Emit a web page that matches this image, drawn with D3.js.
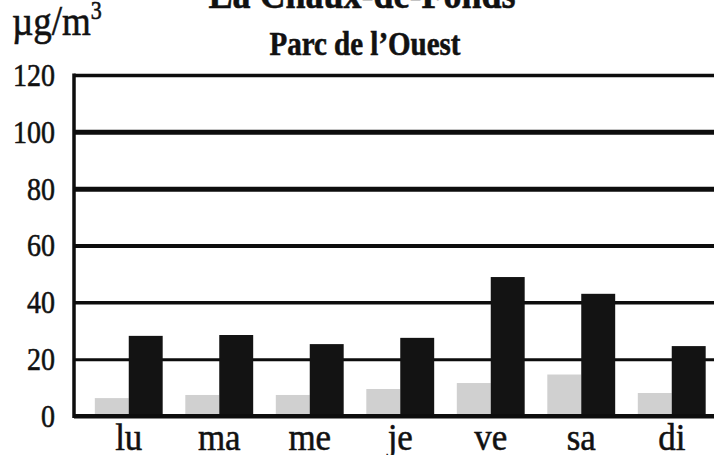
<!DOCTYPE html>
<html>
<head>
<meta charset="utf-8">
<script src="https://cdn.jsdelivr.net/npm/d3@7"></script>
<style>
  html, body { margin: 0; padding: 0; background: #fff; overflow: hidden; }
  text { font-family: "Liberation Serif", "Times New Roman", serif; fill: #111; stroke: #111; stroke-width: 0.5px; }
</style>
</head>
<body>
<div id="chart"></div>
<script>
// données
const jours = ["lu", "ma", "me", "je", "ve", "sa", "di"];
const serieClaire = [6.3, 7.4, 7.4, 9.5, 11.6, 14.6, 8.1];
const serieFoncee = [28.2, 28.5, 25.3, 27.5, 48.9, 43.0, 24.6];
const graduations = [0, 20, 40, 60, 80, 100, 120];

const width = 714, height = 455;
const x0 = 74, yBas = 416, yHaut = 75;
const etirement = 1.16; // le scan est un peu étiré verticalement

const svg = d3.select("#chart").append("svg")
    .attr("width", width)
    .attr("height", height);

// échelles
const y = d3.scaleLinear().domain([0, 120]).range([yBas, yHaut]);
const x = d3.scaleBand().domain(jours).range([x0, 726.5])
    .paddingInner(0.25).paddingOuter(0.23);
const xSerie = d3.scaleBand().domain(["claire", "foncee"]).range([0, x.bandwidth()]);

// épaisseur des lignes horizontales (100 et 80 plus grasses sur l'original)
const epaisseur = { 0: 4, 20: 3, 40: 3.5, 60: 4, 80: 5, 100: 5, 120: 3.5 };

// axe Y + lignes de grille
const axeY = svg.append("g")
    .attr("transform", `translate(${x0},0)`)
    .call(d3.axisLeft(y).tickValues(graduations).tickSizeInner(-(width - x0 + 20)).tickSizeOuter(0).tickPadding(19));
axeY.select(".domain").remove();
axeY.selectAll(".tick line")
    .attr("stroke", "#0d0d0d")
    .attr("stroke-width", d => epaisseur[d]);
axeY.selectAll(".tick text")
    .attr("font-size", 28)
    .attr("fill", "#111")
    .attr("transform", `scale(1,${etirement})`)
    .attr("font-family", "Liberation Serif");

// barres
const groupes = svg.append("g").selectAll("g")
    .data(jours)
    .join("g")
    .attr("transform", d => `translate(${x(d)},0)`);

groupes.append("rect")
    .attr("x", xSerie("claire"))
    .attr("width", xSerie.bandwidth())
    .attr("y", (d, i) => y(serieClaire[i]))
    .attr("height", (d, i) => yBas - y(serieClaire[i]))
    .attr("fill", "#d0d0d0");

groupes.append("rect")
    .attr("x", xSerie("foncee"))
    .attr("width", xSerie.bandwidth())
    .attr("y", (d, i) => y(serieFoncee[i]))
    .attr("height", (d, i) => yBas - y(serieFoncee[i]))
    .attr("fill", "#131313");

// axe vertical gauche et ligne de base
svg.append("line")
    .attr("x1", x0).attr("x2", x0)
    .attr("y1", yHaut - 1.5).attr("y2", yBas + 2)
    .attr("stroke", "#0d0d0d").attr("stroke-width", 3.5);
svg.append("line")
    .attr("x1", x0).attr("x2", width)
    .attr("y1", yBas).attr("y2", yBas)
    .attr("stroke", "#0d0d0d").attr("stroke-width", 4);

// jours
svg.append("g").selectAll("text")
    .data(jours)
    .join("text")
    .attr("transform", d => `translate(${x(d) + x.bandwidth() / 2},450) scale(1,1.1)`)
    .attr("text-anchor", "middle")
    .attr("font-size", 35)
    .text(d => d);

// titres
svg.append("text")
    .attr("transform", `translate(362,8) scale(1,${etirement})`)
    .attr("text-anchor", "middle")
    .attr("font-size", 36)
    .attr("font-weight", "bold")
    .text("La Chaux-de-Fonds");

svg.append("text")
    .attr("transform", `translate(365,55) scale(1,${etirement})`)
    .attr("text-anchor", "middle")
    .attr("font-size", 29)
    .attr("font-weight", "bold")
    .text("Parc de l’Ouest");

// unité
const unite = svg.append("text")
    .attr("transform", `translate(12,35) scale(1,${etirement})`)
    .attr("font-size", 37);
unite.append("tspan").text("µg/m");
unite.append("tspan").attr("font-size", 22).attr("dy", -14).text("3");
</script>
</body>
</html>
